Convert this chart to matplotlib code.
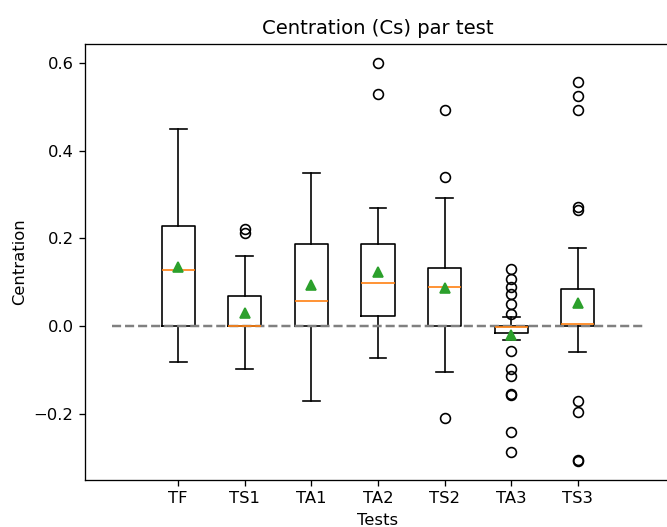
import matplotlib
matplotlib.use("Agg")
import matplotlib.pyplot as plt

# Data (per test)
tests = ["TF", "TS1", "TA1", "TA2", "TS2", "TA3", "TS3"]
q1 = [0.000, 0.000, 0.000, 0.024, 0.000, -0.017, 0.000]
med = [0.128, 0.000, 0.058, 0.098, 0.090, -0.002, 0.004]
q3 = [0.227, 0.068, 0.188, 0.188, 0.133, 0.000, 0.084]
whislo = [-0.083, -0.097, -0.172, -0.072, -0.105, -0.032, -0.059]
whishi = [0.449, 0.160, 0.349, 0.268, 0.292, 0.020, 0.179]
means = [0.135, 0.030, 0.094, 0.124, 0.086, -0.021, 0.052]
fliers = [
    [],
    [0.221, 0.213],
    [],
    [0.600, 0.530],
    [0.492, 0.339, -0.209],
    [0.129, 0.107, 0.090, 0.073, 0.050, 0.027,
     -0.056, -0.097, -0.114, -0.155, -0.158, -0.241, -0.288],
    [0.557, 0.525, 0.492, 0.272, 0.265, -0.171, -0.197, -0.305, -0.307],
]

# build stats for bxp
stats = []
for i, name in enumerate(tests):
    stats.append({
        "label": name,
        "q1": q1[i], "med": med[i], "q3": q3[i],
        "whislo": whislo[i], "whishi": whishi[i],
        "mean": means[i], "fliers": fliers[i],
    })

# original looks rendered at a slightly higher dpi
dpi = 118
fig = plt.figure(figsize=(667 / dpi, 527 / dpi), dpi=dpi)
ax = fig.add_axes([0.1274, 0.0892, 0.8786, 0.8273])

ax.bxp(stats, showmeans=True)
ax.hlines(0, 0, 8, colors="gray", linestyles="--", linewidth=1.5)

ax.set_xlim(-0.4, 8.4)
ax.set_ylim(-0.351, 0.643)
ax.set_yticks([-0.2, 0.0, 0.2, 0.4, 0.6])

ax.set_title("Centration (Cs) par test")
ax.set_xlabel("Tests")
ax.set_ylabel("Centration")

fig.savefig("out.png", dpi=dpi)
